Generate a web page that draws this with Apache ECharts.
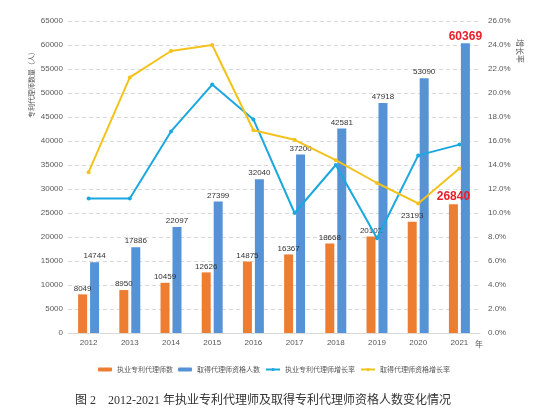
<!DOCTYPE html>
<html lang="zh">
<head>
    <meta charset="UTF-8">
    <title>专利代理师人数变化</title>
    <script src="https://cdn.jsdelivr.net/npm/echarts@6/dist/echarts.min.js"></script>
    <style>
        html, body { margin: 0; padding: 0; background: #fff; }
        #main { width: 548px; height: 414px; }
    </style>
</head>
<body>
<div id="main"></div>
<script>
    // 年份
    var years = ['2012', '2013', '2014', '2015', '2016', '2017', '2018', '2019', '2020', '2021'];
    // 执业专利代理师数
    var practicing = [8049, 8950, 10459, 12626, 14875, 16367, 18668, 20102, 23193, 26840];
    // 取得代理师资格人数
    var qualified = [14744, 17886, 22097, 27399, 32040, 37200, 42581, 47918, 53090, 60369];
    // 增长率（%）
    var practicingRate = [11.2, 11.2, 16.8, 20.7, 17.8, 10.0, 14.0, 7.9, 14.8, 15.7];
    var qualifiedRate = [13.4, 21.3, 23.5, 24.0, 16.9, 16.1, 14.4, 12.5, 10.8, 13.7];

    var names = ['执业专利代理师数', '取得代理师资格人数', '执业专利代理师增长率', '取得代理师资格增长率'];

    var lab = { show: true, position: 'top', distance: 2, fontSize: 8, color: '#333', fontFamily: 'Liberation Sans' };
    var bigLab = { fontSize: 12, fontWeight: 'bold', color: '#e8202a', distance: 1 };

    // 最后一年的标签加粗标红
    function withLastRed(arr) {
        return arr.map(function (v, i) {
            if (i === arr.length - 1) return { value: v, label: bigLab };
            return v;
        });
    }

    var chart = echarts.init(document.getElementById('main'));

    var option = {
        animation: false,
        grid: { left: 68, right: 68, top: 21, bottom: 81 },
        legend: {
            data: names,
            left: 'center',
            top: 361,
            itemWidth: 14,
            itemHeight: 4,
            itemGap: 5,
            textStyle: { fontSize: 7, color: '#595959', fontFamily: 'Noto Sans CJK SC' }
        },
        title: {
            text: '图 2　2012-2021 年执业专利代理师及取得专利代理师资格人数变化情况',
            left: 70,
            top: 390,
            textStyle: { fontSize: 12, fontWeight: 'normal', color: '#333', fontFamily: "'Liberation Serif', 'Noto Sans CJK SC'" }
        },
        xAxis: {
            type: 'category',
            data: years,
            axisTick: { show: false },
            axisLine: { lineStyle: { color: '#d9d9d9' } },
            axisLabel: { fontSize: 8, color: '#595959', margin: 6, fontFamily: 'Liberation Sans' }
        },
        yAxis: [
            {
                type: 'value',
                min: 0,
                max: 65000,
                interval: 5000,
                axisLabel: {
                    fontSize: 8, color: '#595959', margin: 5, fontFamily: 'Liberation Sans',
                    formatter: function (v) { return String(v); }
                },
                splitLine: { lineStyle: { color: '#d9d9d9', type: [4, 3] } },
                axisLine: { show: false },
                axisTick: { show: false }
            },
            {
                type: 'value',
                min: 0,
                max: 26,
                interval: 2,
                axisLabel: {
                    fontSize: 8, color: '#595959', margin: 8, fontFamily: 'Liberation Sans',
                    formatter: function (v) { return v.toFixed(1) + '%'; }
                },
                splitLine: { show: false },
                axisLine: { show: false },
                axisTick: { show: false }
            }
        ],
        graphic: [
            {
                type: 'text', x: 31, y: 83, rotation: Math.PI / 2,
                style: { text: '专利代理师数量（人）', fontSize: 7, fill: '#595959', align: 'center', verticalAlign: 'middle', fontFamily: 'Noto Sans CJK SC' }
            },
            {
                type: 'text', x: 520, y: 51, rotation: -Math.PI / 2,
                style: { text: '增长率', fontSize: 8, fill: '#595959', align: 'center', verticalAlign: 'middle', fontFamily: 'Noto Sans CJK SC' }
            },
            {
                type: 'text', x: 479, y: 344,
                style: { text: '年', fontSize: 8, fill: '#595959', align: 'center', verticalAlign: 'middle', fontFamily: 'Noto Sans CJK SC' }
            }
        ],
        series: [
            {
                name: names[0],
                type: 'bar',
                barWidth: 9,
                barGap: '33%',
                itemStyle: { color: '#ED7D31' },
                label: lab,
                data: withLastRed(practicing)
            },
            {
                name: names[1],
                type: 'bar',
                barWidth: 9,
                itemStyle: { color: '#5593D6' },
                label: lab,
                data: withLastRed(qualified)
            },
            {
                name: names[2],
                type: 'line',
                yAxisIndex: 1,
                symbol: 'circle',
                symbolSize: 4,
                lineStyle: { width: 2, color: '#1BA8E0' },
                itemStyle: { color: '#1BA8E0' },
                z: 5,
                data: practicingRate
            },
            {
                name: names[3],
                type: 'line',
                yAxisIndex: 1,
                symbol: 'circle',
                symbolSize: 4,
                lineStyle: { width: 2, color: '#F4C21D' },
                itemStyle: { color: '#F4C21D' },
                z: 5,
                data: qualifiedRate
            }
        ]
    };

    chart.setOption(option);
</script>
</body>
</html>
